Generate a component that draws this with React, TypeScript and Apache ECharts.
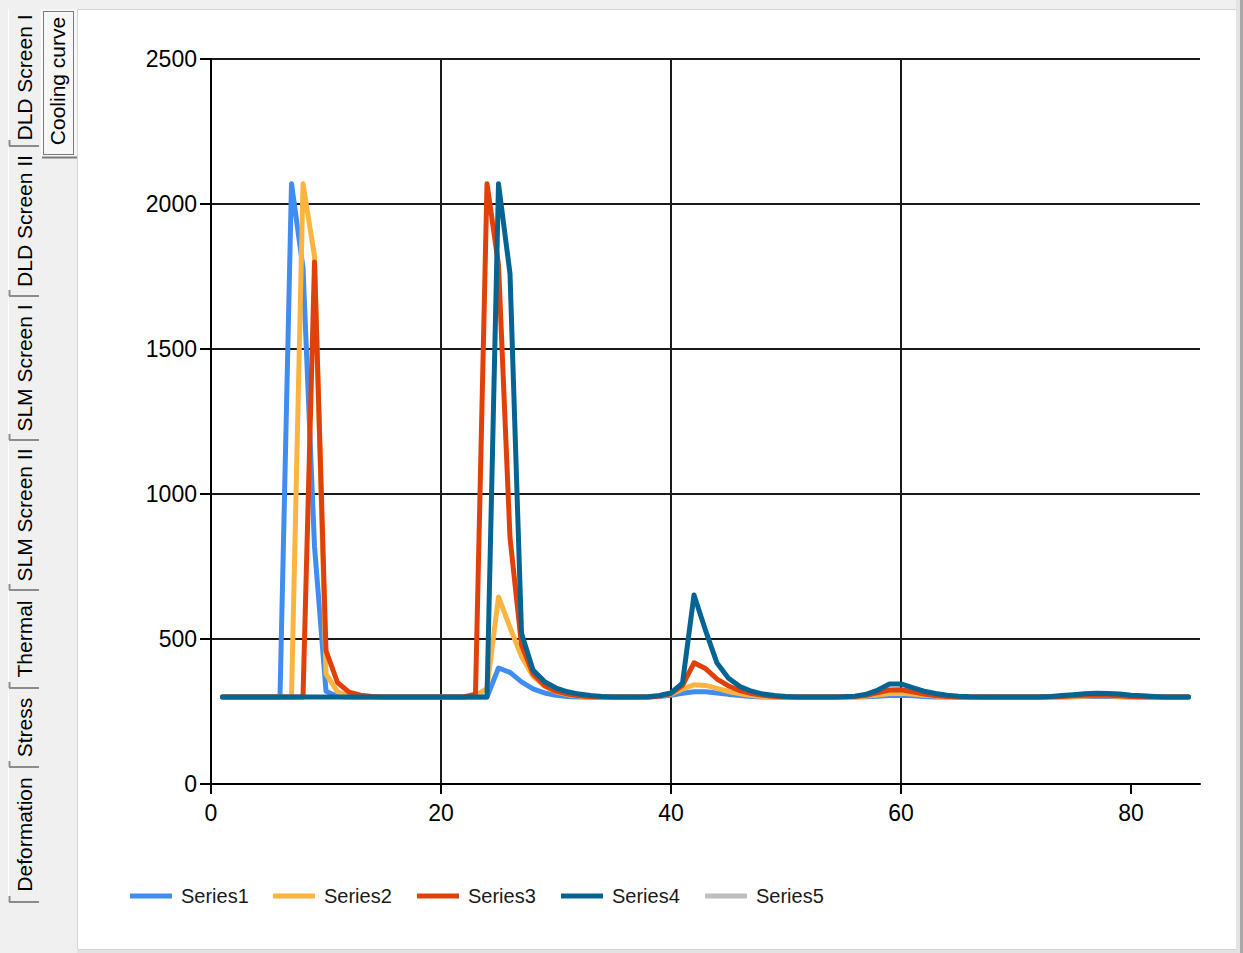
import React, { useEffect, useRef } from "react";
import * as echarts from "echarts";

const xValues = [
  1, 2, 3, 4, 5, 6, 7, 8, 9, 10,
  11, 12, 13, 14, 15, 16, 17, 18, 19, 20,
  21, 22, 23, 24, 25, 26, 27, 28, 29, 30,
  31, 32, 33, 34, 35, 36, 37, 38, 39, 40,
  41, 42, 43, 44, 45, 46, 47, 48, 49, 50,
  51, 52, 53, 54, 55, 56, 57, 58, 59, 60,
  61, 62, 63, 64, 65, 66, 67, 68, 69, 70,
  71, 72, 73, 74, 75, 76, 77, 78, 79, 80,
  81, 82, 83, 84, 85,
];

const series1 = [
  300, 300, 300, 300, 300, 300, 2070, 1780, 820, 320,
  302, 300, 300, 300, 300, 300, 300, 300, 300, 300,
  300, 300, 300, 300, 400, 385, 352, 328, 314, 306,
  302, 300, 300, 300, 300, 300, 300, 300, 302, 306,
  313, 318, 318, 314, 309, 305, 302, 300, 300, 300,
  300, 300, 300, 300, 300, 300, 301, 303, 305, 306,
  304, 302, 300, 300, 300, 300, 300, 300, 300, 300,
  300, 300, 300, 300, 301, 302, 302, 302, 301, 300,
  300, 300, 300, 300, 300,
];

const series2 = [
  300, 300, 300, 300, 300, 300, 300, 2070, 1820, 380,
  318, 305, 301, 300, 300, 300, 300, 300, 300, 300,
  300, 300, 305, 330, 645, 540, 440, 372, 337, 318,
  308, 303, 301, 300, 300, 300, 300, 300, 303, 310,
  328, 342, 340, 330, 319, 311, 305, 302, 300, 300,
  300, 300, 300, 300, 300, 301, 303, 307, 312, 313,
  310, 306, 303, 301, 300, 300, 300, 300, 300, 300,
  300, 300, 300, 301, 302, 303, 304, 304, 302, 301,
  300, 300, 300, 300, 300,
];

const series3 = [
  300, 300, 300, 300, 300, 300, 300, 300, 1800, 460,
  350, 317, 306, 302, 300, 300, 300, 300, 300, 300,
  300, 300, 310, 2070, 1790, 850, 480, 380, 340, 320,
  310, 304, 301, 300, 300, 300, 300, 300, 303, 312,
  340, 418, 398, 362, 338, 322, 312, 306, 302, 300,
  300, 300, 300, 300, 301, 302, 306, 315, 324, 325,
  318, 310, 305, 302, 300, 300, 300, 300, 300, 300,
  300, 300, 301, 302, 304, 306, 307, 306, 304, 302,
  301, 300, 300, 300, 300,
];

const series4 = [
  300, 300, 300, 300, 300, 300, 300, 300, 300, 300,
  300, 300, 300, 300, 300, 300, 300, 300, 300, 300,
  300, 300, 300, 300, 2070, 1760, 520, 393, 353, 331,
  318, 310, 305, 302, 300, 300, 300, 301, 305, 314,
  348, 652, 530, 417, 365, 336, 320, 310, 305, 302,
  300, 300, 300, 300, 301, 303, 310, 324, 345, 345,
  332, 320, 312, 306, 303, 301, 300, 300, 300, 300,
  300, 300, 302, 305, 308, 311, 313, 312, 310, 306,
  304, 302, 300, 300, 300,
];

const series5: number[] = [];

const seriesNames = ["Series1", "Series2", "Series3", "Series4", "Series5"];
const seriesValues = [series1, series2, series3, series4, series5];
const seriesColors = ["#418CF0", "#FCB441", "#E0400A", "#056492", "#BFBFBF"];

const xTickValues = [0, 20, 40, 60, 80];
const yTickValues = [0, 500, 1000, 1500, 2000, 2500];

const tabNames = [
  "DLD Screen I",
  "DLD Screen II",
  "SLM Screen I",
  "SLM Screen II",
  "Thermal",
  "Stress",
  "Deformation",
];
const selectedTabName = "Cooling curve";

const FONT = "'Liberation Sans', Arial, sans-serif";

export default function App() {
  const ref = useRef<HTMLDivElement>(null);

  useEffect(() => {
    if (!ref.current) return;
    const chart = echarts.init(ref.current, null, { renderer: "svg" });

    const tabBounds = [9, 146, 296, 440, 590, 688, 767, 902];
    const graphics: any[] = [];

    // white tab page
    graphics.push({
      type: "rect",
      z: -1,
      shape: { x: 77.5, y: 9.5, width: 1160, height: 940 },
      style: { fill: "#ffffff", stroke: "#d4d4d4", lineWidth: 1 },
    });
    graphics.push({
      type: "rect",
      z: -1,
      shape: { x: 1236, y: 0, width: 4, height: 953 },
      style: { fill: "#e3e3e3" },
    });
    graphics.push({
      type: "rect",
      z: -1,
      shape: { x: 1240, y: 0, width: 3, height: 953 },
      style: { fill: "#a8a8a8" },
    });
    graphics.push({
      type: "rect",
      z: -1,
      shape: { x: 77, y: 950, width: 1163, height: 3 },
      style: { fill: "#e3e3e3" },
    });

    // column 1 tabs
    graphics.push({
      type: "line",
      z: -1,
      shape: { x1: 8.5, y1: 9, x2: 8.5, y2: tabBounds[tabBounds.length - 1] },
      style: { stroke: "#ffffff", lineWidth: 1 },
    });
    tabNames.forEach((name, i) => {
      const y0 = tabBounds[i];
      const y1 = tabBounds[i + 1];
      graphics.push({
        type: "text",
        x: 24,
        y: (y0 + y1) / 2,
        rotation: Math.PI / 2,
        style: {
          text: name,
          fontSize: 21,
          fontFamily: FONT,
          fill: "#000000",
          align: "center",
          verticalAlign: "middle",
        },
      });
      graphics.push({
        type: "line",
        shape: { x1: 9, y1: y1, x2: 39, y2: y1 },
        style: { stroke: "#8c8c8c", lineWidth: 2 },
      });
      graphics.push({
        type: "line",
        shape: { x1: 9.5, y1: y1 - 6, x2: 9.5, y2: y1 },
        style: { stroke: "#8c8c8c", lineWidth: 2 },
      });
    });

    // selected tab
    graphics.push({
      type: "rect",
      shape: { x: 41, y: 9, width: 36, height: 148 },
      style: { fill: "#f7f7f7" },
    });
    graphics.push({
      type: "line",
      shape: { x1: 41.5, y1: 9, x2: 41.5, y2: 157 },
      style: { stroke: "#ffffff", lineWidth: 1 },
    });
    graphics.push({
      type: "line",
      shape: { x1: 42, y1: 157.5, x2: 77, y2: 157.5 },
      style: { stroke: "#7a7a7a", lineWidth: 2 },
    });
    graphics.push({
      type: "rect",
      shape: { x: 43.5, y: 11.5, width: 30, height: 143 },
      style: { fill: "none", stroke: "#000000", lineWidth: 1, lineDash: [1, 1] },
    });
    graphics.push({
      type: "text",
      x: 57,
      y: 81,
      rotation: Math.PI / 2,
      style: {
        text: selectedTabName,
        fontSize: 21,
        fontFamily: FONT,
        fill: "#000000",
        align: "center",
        verticalAlign: "middle",
      },
    });

    const legendLefts = [130, 273, 417, 561, 705];

    const option: any = {
      animation: false,
      backgroundColor: "#f0f0f0",
      graphic: { elements: graphics },
      grid: { left: 211, right: 43, top: 59, bottom: 169, containLabel: false },
      legend: seriesNames.map((n, i) => ({
        data: [n],
        left: legendLefts[i],
        top: 886,
        orient: "horizontal",
        icon: "rect",
        itemWidth: 42,
        itemHeight: 5,
        itemGap: 0,
        padding: 0,
        selectedMode: false,
        textStyle: {
          fontSize: 20,
          fontFamily: FONT,
          color: "#1a1a1a",
          padding: [0, 0, 0, 4],
        },
      })),
      xAxis: {
        type: "value",
        min: 0,
        max: 86,
        interval: 20,
        axisLine: { show: true, onZero: false, lineStyle: { color: "#000", width: 2 } },
        axisTick: {
          show: true,
          length: 10,
          customValues: xTickValues,
          lineStyle: { color: "#000", width: 2 },
        },
        axisLabel: {
          customValues: xTickValues,
          fontSize: 23,
          fontFamily: FONT,
          color: "#000",
          margin: 17,
          formatter: (v: number) => (xTickValues.includes(v) ? String(v) : ""),
        },
        splitLine: {
          show: true,
          showMaxLine: false,
          lineStyle: { color: "#1a1a1a", width: 2 },
        },
      },
      yAxis: {
        type: "value",
        min: yTickValues[0],
        max: yTickValues[yTickValues.length - 1],
        interval: 500,
        axisLine: { show: true, onZero: false, lineStyle: { color: "#000", width: 2 } },
        axisTick: { show: true, length: 11, lineStyle: { color: "#000", width: 2 } },
        axisLabel: {
          fontSize: 23,
          fontFamily: FONT,
          color: "#000",
          margin: 14,
          formatter: (v: number) => String(v),
        },
        splitLine: { show: true, lineStyle: { color: "#1a1a1a", width: 2 } },
      },
      series: seriesNames.map((n, i) => ({
        name: n,
        type: "line",
        color: seriesColors[i],
        showSymbol: false,
        symbol: "none",
        data: seriesValues[i].map((v, j) => [xValues[j], v]),
        lineStyle: { width: 5, color: seriesColors[i], cap: "round", join: "round" },
        itemStyle: { color: seriesColors[i] },
        emphasis: { disabled: true },
      })),
    };

    chart.setOption(option);
    return () => chart.dispose();
  }, []);

  return (
    <div
      ref={ref}
      style={{ position: "absolute", left: 0, top: 0, width: 1243, height: 953 }}
    />
  );
}
